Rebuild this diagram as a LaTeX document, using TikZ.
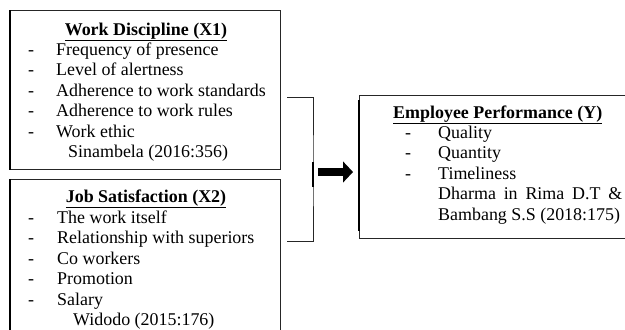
\documentclass[tikz,border=0pt]{standalone}
\usepackage{fontspec}
\setmainfont{Liberation Serif}
\usetikzlibrary{arrows.meta}
\begin{document}
\begin{tikzpicture}[x=0.03cm,y=-0.03cm]
        \tikzstyle{box}=[rectangle,draw=black!85,line width=0.8pt,anchor=north west,inner sep=0pt,minimum width=8.1cm]
        \tikzstyle{head}=[font=\fontsize{15.3}{17.5}\selectfont\bfseries,anchor=base,inner sep=0pt]
        \tikzstyle{items}=[font=\fontsize{15.3}{17.5}\selectfont,anchor=base west,inner sep=0pt]
        \tikzstyle{edgebar}=[draw=black,line width=1.6pt]
        \tikzstyle{link}=[draw=black!85,line width=0.8pt]

       \clip (0,0) rectangle (625,329);

       % the three boxes
       \node [box,minimum height=4.77cm] (wd) at (10,10) {};
       \node [box,minimum height=4.8cm] (js) at (10,179) {};
       \node [box,minimum height=4.29cm] (ep) at (359,95) {};
       \draw [edgebar] (wd.north west) -- (wd.south west);
       \draw [edgebar] (js.north west) -- (js.south west);
       \draw [edgebar] ([yshift=-0.15cm]ep.north west) -- ([yshift=0.25cm]ep.south west);

       % work discipline
       \node [head] (wdtitle) at (146,35) {\underline{Work Discipline (X1)}};
       \node [items] (wdlist) at (28,55) {\begin{tabular}[t]{@{}p{0.84cm}@{}l@{}}
         - & Frequency of presence\\
         - & Level of alertness\\
         - & Adherence to work standards\\
         - & Adherence to work rules\\
         - & Work ethic\\
           & \hspace*{0.36cm}Sinambela (2016:356)
         \end{tabular}};

       % job satisfaction
       \node [head] (jstitle) at (146,202) {\underline{Job Satisfaction (X2)}};
       \node [items] (jslist) at (28,223) {\begin{tabular}[t]{@{}p{0.87cm}@{}l@{}}
         - & The work itself\\
         - & Relationship with superiors\\
         - & Co workers\\
         - & Promotion\\
         - & Salary\\
           & \hspace*{0.48cm}Widodo (2015:176)
         \end{tabular}};

       % employee performance
       \node [head,anchor=base west] (eptitle) at (393,118) {\underline{Employee Performance (Y)}};
       \node [items] (eplist) at (405,138) {\begin{tabular}[t]{@{}p{0.99cm}@{}l@{}}
         - & Quality\\
         - & Quantity\\
         - & Timeliness\\
           & \makebox[5.52cm][s]{Dharma in Rima D.T \&}\\
           & Bambang S.S (2018:175)
         \end{tabular}};

       % bracket and arrow
       \coordinate (jtop) at (287,97);
       \coordinate (jbot) at (287,241);
       \coordinate (jmid) at (313,172);
       \coordinate (go) at (318,172);
       \path [link] (jtop) -| (jmid) |- (jbot);
       \draw [edgebar] ([yshift=0.3cm]jmid) -- ([yshift=-0.45cm]jmid);
       \draw [line width=7.5pt,-{Triangle[length=0.3cm,width=0.62cm]}] (go) -- ([xshift=-0.18cm]ep.west |- go);
\end{tikzpicture}
\end{document}
